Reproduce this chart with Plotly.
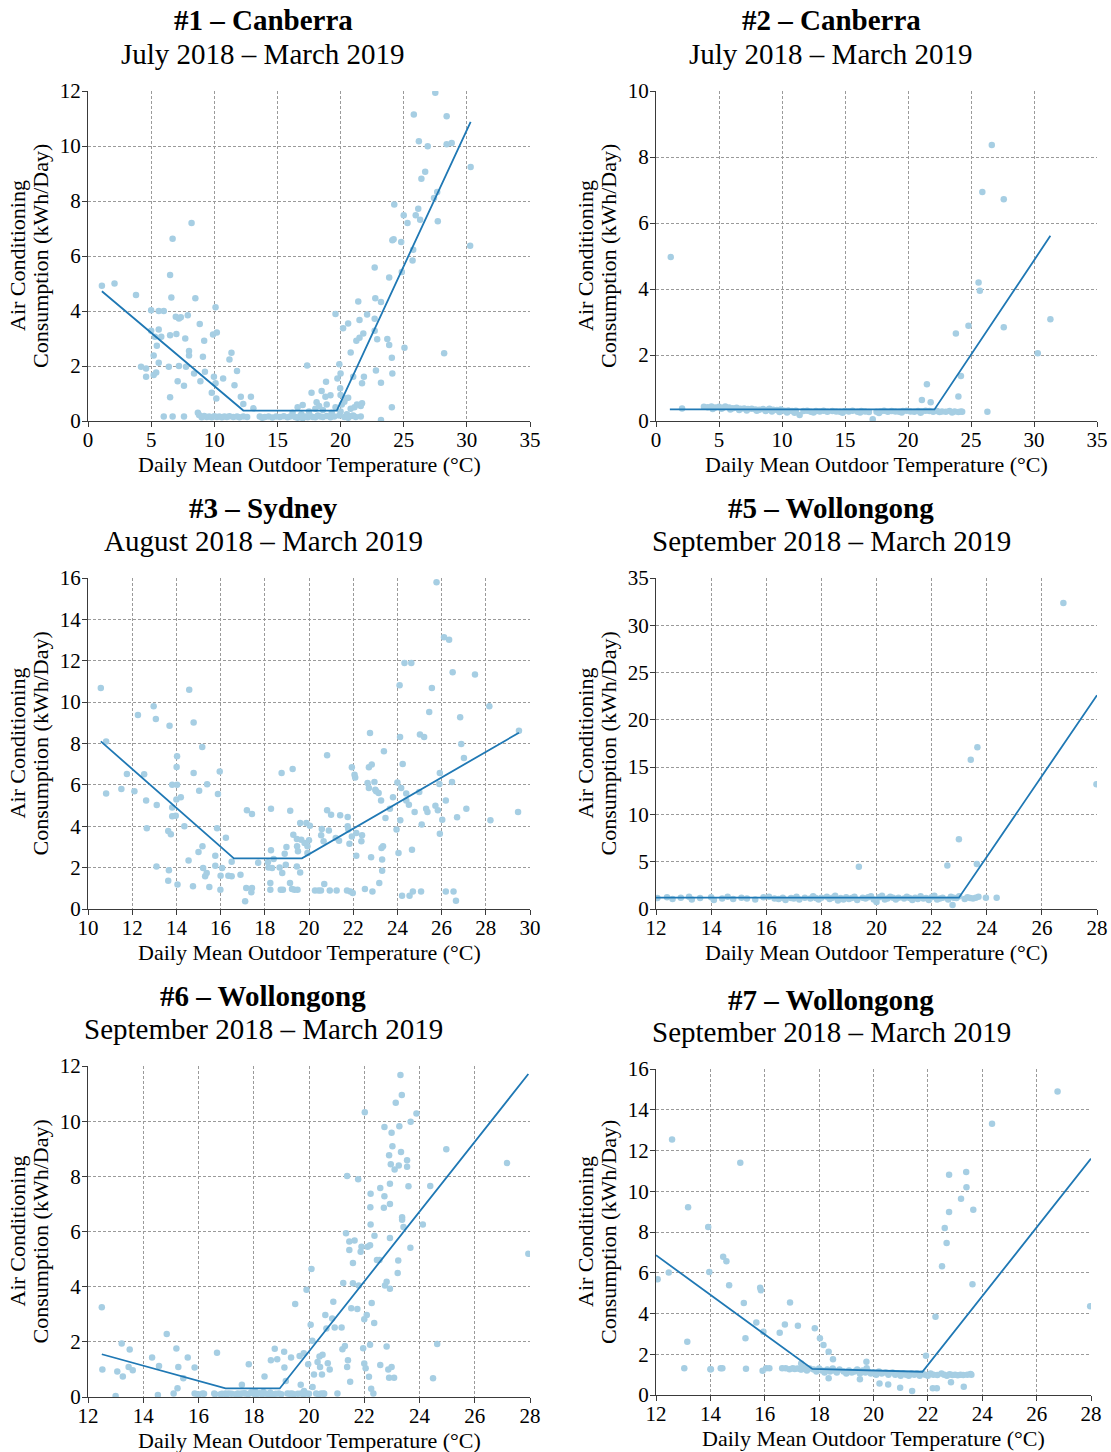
import plotly.graph_objects as go

# ---------------------------------------------------------------------------
# Daily air-conditioning consumption vs. daily mean outdoor temperature
# (temperature °C, consumption kWh/day) and the fitted piecewise-linear models
# ---------------------------------------------------------------------------

site1_points = [
    (1.1, 4.92), (2.1, 5.0), (3.8, 4.58), (4.2, 1.97), (4.6, 1.91), (4.6, 1.61), (5.0, 4.03), (5.0, 3.28),
    (5.3, 3.06), (5.2, 2.38), (5.2, 1.67), (5.4, 1.76), (5.45, 2.74), (5.6, 3.33), (5.6, 2.12), (5.6, 4.0),
    (6.0, 4.0), (5.8, 3.06), (6.4, 1.97), (6.5, 0.86), (6.5, 3.12), (6.5, 5.31), (6.6, 4.49), (6.7, 6.63),
    (6.95, 3.79), (7.0, 3.16), (7.1, 1.45), (7.2, 2.0), (7.2, 3.73), (7.35, 3.77), (7.6, 1.28), (7.7, 3.0),
    (7.76, 1.97), (7.9, 3.85), (8.0, 2.55), (8.0, 2.38), (8.2, 7.2), (8.4, 1.73), (8.5, 4.46), (8.7, 0.30),
    (8.85, 3.53), (8.9, 1.45), (9.2, 2.92), (9.1, 2.34), (9.26, 1.79), (9.8, 1.03), (9.9, 3.15), (9.97, 1.61),
    (10.1, 1.37), (10.1, 4.14), (10.2, 3.22), (10.16, 0.82), (10.7, 1.55), (11.2, 2.24), (11.36, 2.48),
    (11.6, 1.3), (11.8, 1.82), (12.1, 0.88), (12.3, 0.62), (12.9, 0.88), (13.1, 0.46), (17.35, 2.02),
    (17.0, 0.58), (16.6, 0.5), (17.7, 1.03), (18.1, 0.68), (18.5, 1.09), (18.8, 0.88), (18.85, 1.43),
    (19.2, 0.94), (19.6, 3.89), (19.9, 2.06), (20.0, 1.73), (19.75, 1.55), (19.97, 1.19), (20.2, 3.37),
    (20.6, 3.55), (20.4, 0.82), (20.8, 2.49), (21.0, 1.61), (21.25, 2.92), (21.4, 4.35), (21.5, 3.03),
    (21.5, 3.67), (21.7, 1.37), (21.8, 3.18), (21.85, 1.61), (22.1, 3.87), (22.7, 5.58), (22.75, 4.46),
    (22.7, 3.72), (22.7, 3.28), (22.9, 2.97), (22.8, 1.84), (23.2, 4.33), (23.2, 1.39), (23.2, 0.04),
    (23.7, 2.98), (23.85, 2.76), (23.85, 5.22), (24.06, 2.3), (24.1, 1.73), (24.06, 0.5), (24.1, 6.57),
    (24.2, 6.61), (24.25, 7.87), (24.8, 6.51), (24.85, 5.42), (25.06, 2.66), (25.0, 7.48), (25.3, 7.2),
    (25.7, 5.84), (25.75, 6.23), (25.8, 11.15), (25.95, 7.48), (26.15, 7.72), (26.2, 10.17), (26.3, 7.32),
    (26.4, 8.81), (26.7, 9.06), (26.9, 9.99), (27.4, 8.11), (27.5, 11.94), (27.65, 8.33), (27.7, 7.26),
    (28.2, 2.46), (28.4, 11.08), (28.4, 10.06), (28.8, 10.11), (30.26, 6.37), (30.3, 9.24),
    # near-zero days
    (6.0, 0.16), (6.7, 0.16), (7.6, 0.16), (8.8, 0.22), (9.0, 0.14), (9.2, 0.18), (9.4, 0.15), (9.6, 0.16),
    (9.8, 0.14), (10.0, 0.17), (10.2, 0.15), (10.4, 0.16), (10.6, 0.14), (10.8, 0.16), (11.0, 0.15),
    (11.2, 0.17), (11.5, 0.15), (11.8, 0.16), (12.0, 0.14), (12.3, 0.16), (12.6, 0.15), (13.6, 0.16),
    (13.8, 0.12), (14.0, 0.15), (14.3, 0.16), (14.6, 0.13), (14.9, 0.16), (15.2, 0.15), (15.5, 0.17),
    (15.8, 0.14), (16.0, 0.16), (16.2, 0.3), (16.4, 0.15), (16.6, 0.12), (16.8, 0.18), (16.9, 0.25),
    (17.0, 0.1), (17.2, 0.16), (17.4, 0.14), (17.5, 0.35), (17.6, 0.18), (17.8, 0.15), (18.0, 0.45),
    (18.0, 0.14), (18.2, 0.2), (18.3, 0.55), (18.4, 0.16), (18.6, 0.4), (18.6, 0.15), (18.9, 0.6),
    (18.9, 0.18), (19.2, 0.14), (19.3, 0.3), (19.5, 0.16), (19.6, 0.5), (19.9, 0.2), (20.0, 0.35),
    (20.0, 0.95), (20.1, 0.6), (20.3, 0.7), (20.3, 0.15), (20.5, 0.25), (20.6, 0.85), (20.6, 0.12),
    (20.8, 0.45), (20.9, 0.18), (21.0, 0.2), (21.1, 0.5), (21.2, 0.15), (21.3, 0.6), (21.6, 0.16),
    (21.6, 0.55), (21.7, 0.65),
]
site1_fit_t = [1.1, 12.3, 19.7, 30.3]
site1_fit_k = [4.72, 0.38, 0.38, 10.88]

site2_points = [
    (1.17, 4.97), (2.07, 0.38), (11.4, 0.18), (17.2, 0.05), (21.1, 0.64), (21.5, 1.11), (21.8, 0.57),
    (23.8, 2.65), (24.0, 0.74), (24.2, 1.36), (24.8, 2.89), (25.6, 4.2), (25.7, 3.95), (25.9, 6.94),
    (26.3, 0.28), (26.65, 8.36), (27.6, 6.72), (27.6, 2.84), (30.3, 2.05), (31.3, 3.08),
    # standby band
    (3.8, 0.43), (4.1, 0.42), (4.4, 0.44), (4.7, 0.41), (5.0, 0.43), (5.3, 0.40), (5.5, 0.44), (5.8, 0.41),
    (6.1, 0.39), (6.4, 0.40), (6.7, 0.37), (7.0, 0.38), (7.3, 0.36), (7.6, 0.37), (7.9, 0.35), (8.2, 0.34),
    (8.5, 0.36), (8.8, 0.33), (9.0, 0.37), (9.3, 0.34), (9.6, 0.33), (9.9, 0.35), (10.2, 0.31), (10.5, 0.32),
    (10.8, 0.30), (11.1, 0.31), (11.7, 0.30), (12.0, 0.31), (12.3, 0.28), (12.7, 0.30), (13.0, 0.29),
    (13.3, 0.31), (13.6, 0.28), (14.0, 0.30), (14.3, 0.29), (14.6, 0.28), (15.0, 0.30), (15.3, 0.29),
    (15.6, 0.31), (16.0, 0.28), (16.3, 0.30), (16.6, 0.29), (16.9, 0.27), (17.5, 0.28), (17.8, 0.29),
    (18.1, 0.31), (18.4, 0.28), (18.7, 0.30), (19.0, 0.29), (19.3, 0.28), (19.6, 0.30), (19.9, 0.31),
    (20.2, 0.29), (20.5, 0.28), (20.8, 0.30), (21.1, 0.29), (21.4, 0.31), (21.7, 0.30), (22.0, 0.28),
    (22.3, 0.30), (22.7, 0.29), (23.0, 0.28), (23.3, 0.30), (23.7, 0.29), (24.0, 0.27), (24.3, 0.28),
    (4.5, 0.36), (5.2, 0.37), (5.9, 0.35), (6.6, 0.33), (7.2, 0.32), (8.0, 0.31), (8.7, 0.30), (9.2, 0.29),
    (9.8, 0.27), (10.4, 0.26), (11.0, 0.25), (12.5, 0.26), (14.8, 0.25), (16.2, 0.26), (17.7, 0.24),
    (19.5, 0.26), (21.0, 0.25), (22.5, 0.27), (23.5, 0.26), (24.2, 0.29),
]
site2_fit_t = [1.1, 22.1, 31.3]
site2_fit_k = [0.35, 0.35, 5.61]

site3_points = [
    (10.58, 10.68), (10.82, 8.1), (10.82, 5.58), (11.51, 5.8), (11.76, 6.53), (12.1, 5.69), (12.26, 9.38),
    (12.54, 6.51), (12.63, 5.24), (12.66, 3.9), (12.97, 9.8), (13.07, 9.18), (13.11, 5.03), (13.1, 2.06),
    (13.63, 3.77), (13.66, 1.87), (13.63, 1.37), (13.69, 8.86), (13.75, 3.61), (13.81, 6.01), (13.81, 4.91),
    (13.81, 4.48), (13.97, 4.51), (14.01, 6.86), (14.03, 7.38), (14.03, 6.01), (14.0, 5.29), (14.05, 1.18),
    (14.2, 5.4), (14.36, 4.0), (14.55, 2.34), (14.58, 10.6), (14.75, 1.1), (14.78, 9.02), (14.78, 6.57),
    (15.03, 5.72), (15.0, 2.76), (15.17, 7.83), (15.18, 3.03), (15.21, 1.98), (15.3, 1.58), (15.37, 1.74),
    (15.39, 6.03), (15.49, 1.06), (15.76, 2.58), (15.76, 2.09), (15.84, 3.9), (15.88, 5.56), (15.96, 6.65),
    (15.99, 0.93), (16.0, 1.61), (16.07, 1.98), (16.24, 3.45), (16.35, 1.61), (16.5, 1.58), (16.5, 2.29),
    (16.9, 1.66), (17.11, 0.37), (17.16, 1.02), (17.19, 4.77), (17.39, 0.81), (17.42, 1.02), (17.42, 4.59),
    (17.7, 2.24), (18.14, 2.26), (18.17, 2.01), (18.25, 1.26), (18.25, 0.93), (18.28, 2.84), (18.28, 4.85),
    (18.33, 1.98), (18.4, 2.42), (18.67, 2.01), (18.72, 0.93), (18.76, 6.57), (18.79, 1.74), (18.82, 0.93),
    (18.9, 2.67), (18.95, 2.14), (18.98, 3.0), (19.14, 1.26), (19.15, 4.75), (19.23, 0.97), (19.26, 6.77),
    (19.29, 3.59), (19.34, 0.93), (19.45, 2.06), (19.48, 0.93), (19.45, 3.38), (19.46, 3.03), (19.5, 2.79),
    (19.6, 1.77), (19.6, 4.16), (19.65, 3.35), (19.8, 3.19), (19.88, 4.16), (19.93, 3.03), (20.0, 3.32),
    (20.04, 4.03), (19.93, 2.71), (20.27, 0.89), (20.43, 0.89), (20.54, 0.89), (20.55, 3.56), (20.58, 3.87),
    (20.66, 3.27), (20.69, 1.21), (20.82, 4.77), (20.82, 7.43), (20.9, 3.79), (20.94, 0.9), (21.0, 4.56),
    (21.21, 3.43), (21.25, 0.89), (21.36, 3.3), (21.41, 4.53), (21.72, 0.89), (21.75, 4.45), (21.75, 4.0),
    (21.78, 3.84), (21.83, 3.16), (21.87, 0.85), (21.94, 3.51), (21.98, 0.77), (21.94, 6.85), (22.06, 6.49),
    (22.09, 6.36), (22.14, 2.58), (22.14, 3.67), (22.37, 3.27), (22.4, 3.56), (22.53, 0.97), (22.65, 6.09),
    (22.71, 6.85), (22.71, 5.85), (22.76, 8.51), (22.81, 2.5), (22.84, 6.98), (22.87, 0.85), (22.96, 6.14),
    (23.0, 5.77), (23.04, 5.69), (23.15, 5.61), (23.18, 1.26), (23.26, 5.25), (23.28, 2.95), (23.31, 2.39),
    (23.31, 1.85), (23.35, 3.03), (23.39, 7.62), (23.46, 4.4), (23.66, 4.85), (23.8, 5.4), (23.96, 3.84),
    (24.0, 6.12), (24.05, 2.71), (24.1, 10.81), (24.12, 8.31), (24.13, 4.29), (24.17, 5.85), (24.21, 0.64),
    (24.24, 7.01), (24.32, 11.89), (24.4, 5.58), (24.4, 5.25), (24.52, 5.04), (24.55, 0.64), (24.63, 11.89),
    (24.66, 2.87), (24.7, 0.85), (24.78, 4.69), (24.99, 5.66), (25.02, 8.43), (25.1, 4.08), (25.07, 0.85),
    (25.21, 8.31), (25.3, 4.85), (25.36, 4.69), (25.44, 9.52), (25.56, 10.68), (25.72, 4.99), (25.77, 15.79),
    (25.83, 4.77), (25.92, 6.57), (25.9, 6.04), (25.92, 3.64), (26.03, 4.32), (26.11, 13.13), (26.19, 5.25),
    (26.19, 0.85), (26.34, 13.02), (26.47, 6.14), (26.5, 11.44), (26.54, 0.85), (26.65, 0.4), (26.7, 4.43),
    (26.84, 9.27), (26.89, 7.98), (27.01, 7.3), (27.12, 4.85), (27.51, 11.33), (28.16, 9.8), (28.21, 4.29),
    (29.46, 4.69), (29.5, 8.62),
]
site3_fit_t = [10.58, 16.6, 19.68, 29.5]
site3_fit_k = [8.1, 2.45, 2.45, 8.52]

site5_points = [
    (19.36, 4.48), (22.57, 4.59), (22.76, 0.42), (22.99, 7.37), (23.42, 15.77), (23.66, 17.11),
    (23.64, 4.76), (23.97, 1.2), (24.36, 1.2), (26.78, 32.36), (27.98, 13.2),
    # standby band
    (12.05, 1.15), (12.4, 1.25), (12.6, 1.05), (12.9, 1.2), (13.2, 1.3), (13.3, 1.0), (13.6, 1.15),
    (14.0, 1.25), (14.1, 0.95), (14.4, 1.1), (14.6, 1.3), (14.8, 1.05), (15.1, 1.2), (15.3, 1.1),
    (15.6, 1.0), (15.9, 1.25), (16.1, 1.3), (16.3, 1.1), (16.6, 1.2), (16.7, 0.95), (16.9, 1.15),
    (17.1, 1.3), (17.2, 1.0), (17.4, 1.2), (17.6, 1.1), (17.7, 1.35), (17.9, 1.0), (18.0, 1.2), (18.2, 1.3),
    (18.3, 1.05), (18.5, 1.4), (18.6, 0.9), (18.7, 1.15), (18.9, 1.25), (19.0, 1.05), (19.2, 1.3),
    (19.3, 0.95), (19.5, 1.2), (19.6, 1.1), (19.8, 1.35), (19.9, 1.0), (20.0, 0.75), (20.1, 1.25),
    (20.2, 1.4), (20.4, 1.1), (20.5, 1.3), (20.7, 1.0), (20.8, 1.2), (21.0, 1.1), (21.1, 1.3), (21.3, 0.95),
    (21.4, 1.2), (21.5, 1.05), (21.6, 1.35), (21.8, 1.15), (21.9, 0.95), (22.0, 1.25), (22.1, 1.4),
    (22.3, 1.1), (22.4, 1.2), (22.6, 1.0), (22.7, 1.3), (22.9, 1.15), (23.0, 1.35), (23.2, 1.05),
    (23.3, 1.25), (23.5, 1.1), (23.6, 1.2), (23.7, 1.3), (16.45, 1.05), (17.0, 1.1), (17.8, 1.15),
    (18.4, 1.2), (18.8, 1.0), (19.1, 1.15), (19.7, 1.25), (20.3, 1.0), (20.6, 1.2), (21.2, 1.15),
    (21.7, 1.1), (22.2, 1.0), (22.8, 1.2), (23.4, 1.15),
]
site5_fit_t = [12.0, 22.99, 28.0]
site5_fit_k = [1.2, 1.2, 22.6]

site6_points = [
    (12.5, 3.25), (12.52, 1.0), (13.0, 0.04), (13.06, 0.92), (13.22, 1.94), (13.26, 0.74), (13.47, 1.09),
    (13.51, 1.72), (13.62, 0.97), (14.32, 1.43), (14.53, 0.07), (14.57, 1.12), (14.85, 2.28), (15.1, 0.13),
    (15.2, 1.76), (15.24, 0.32), (15.27, 1.09), (15.45, 0.68), (15.61, 1.43), (15.86, 1.07), (15.86, 0.13),
    (15.98, 0.1), (16.15, 0.13), (16.57, 0.13), (16.67, 1.6), (16.8, 0.1), (16.98, 0.13), (17.1, 0.13),
    (17.42, 0.13), (17.57, 0.44), (17.55, 0.13), (17.7, 0.13), (17.82, 1.19), (18.39, 0.74), (18.62, 1.33),
    (18.76, 1.75), (18.85, 1.37), (18.91, 0.13), (19.1, 1.64), (19.11, 1.07), (19.16, 0.58), (19.22, 0.13),
    (19.35, 1.43), (19.38, 0.13), (19.5, 3.37), (19.66, 1.49), (19.7, 0.44), (19.72, 0.13), (19.81, 1.59),
    (19.82, 0.22), (19.91, 3.89), (19.91, 0.13), (19.97, 1.19), (20.06, 2.62), (20.09, 4.64), (20.12, 2.04),
    (20.13, 0.36), (20.18, 0.82), (20.26, 0.13), (20.31, 1.27), (20.38, 1.47), (20.4, 1.09), (20.44, 0.13),
    (20.47, 0.82), (20.49, 1.53), (20.53, 0.13), (20.59, 2.97), (20.63, 2.48), (20.68, 1.22), (20.75, 1.0),
    (20.84, 2.85), (20.88, 3.45), (20.93, 2.52), (21.03, 0.13), (21.18, 2.52), (21.21, 1.73), (21.3, 1.85),
    (21.24, 4.13), (21.34, 5.94), (21.38, 8.01), (21.38, 1.09), (21.41, 1.33), (21.46, 5.33), (21.46, 5.64),
    (21.49, 0.55), (21.53, 3.22), (21.59, 4.12), (21.59, 4.86), (21.65, 5.67), (21.75, 3.19), (21.78, 7.89),
    (21.8, 4.04), (21.87, 5.27), (21.9, 5.45), (21.96, 1.77), (22.0, 2.82), (22.0, 1.21), (22.02, 10.32),
    (22.05, 1.04), (22.09, 2.97), (22.12, 5.45), (22.17, 0.73), (22.21, 5.5), (22.21, 1.89), (22.22, 6.88),
    (22.23, 7.37), (22.23, 6.25), (22.25, 0.3), (22.27, 3.41), (22.33, 0.13), (22.36, 2.68), (22.37, 5.85),
    (22.46, 4.97), (22.55, 4.97), (22.58, 7.58), (22.58, 1.16), (22.71, 6.86), (22.73, 9.79), (22.73, 7.28),
    (22.75, 4.04), (22.81, 4.18), (22.81, 1.83), (22.87, 1.0), (22.9, 8.76), (22.9, 0.7), (22.93, 3.92),
    (22.93, 5.76), (22.93, 7.0), (22.93, 7.73), (22.96, 8.44), (22.99, 9.58), (22.99, 1.09), (23.02, 9.09),
    (23.08, 0.7), (23.1, 8.25), (23.14, 10.67), (23.21, 4.5), (23.23, 4.95), (23.25, 8.39), (23.27, 9.82),
    (23.31, 11.67), (23.33, 8.88), (23.36, 10.95), (23.37, 6.52), (23.37, 6.43), (23.42, 6.16), (23.55, 8.58),
    (23.55, 8.35), (23.6, 7.64), (23.67, 5.41), (23.68, 9.98), (23.89, 10.28), (24.12, 6.25), (24.39, 7.65),
    (24.49, 0.68), (24.64, 1.92), (24.97, 8.98), (27.17, 8.48), (27.94, 5.19),
    # near-zero days
    (16.0, 0.08), (16.2, 0.12), (16.6, 0.1), (16.85, 0.12), (17.0, 0.08), (17.2, 0.12), (17.35, 0.1),
    (17.5, 0.1), (17.65, 0.14), (17.8, 0.1), (17.9, 0.16), (18.0, 0.12), (18.05, 0.2), (18.1, 0.1),
    (18.2, 0.14), (18.3, 0.1), (18.35, 0.18), (18.45, 0.12), (18.55, 0.1), (18.6, 0.15), (18.7, 0.1),
    (18.8, 0.12), (19.0, 0.1), (19.3, 0.12), (19.45, 0.1), (19.6, 0.12), (19.8, 0.1), (20.0, 0.12),
    (20.35, 0.1), (20.55, 0.12),
]
site6_fit_t = [12.5, 16.98, 18.94, 27.94]
site6_fit_k = [1.55, 0.31, 0.31, 11.71]

site7_points = [
    (12.06, 5.68), (12.47, 6.01), (12.59, 12.54), (13.04, 1.31), (13.15, 2.61), (13.18, 9.22), (13.92, 8.24),
    (13.96, 6.04), (14.0, 1.26), (14.02, 1.26), (14.38, 1.31), (14.44, 1.31), (14.47, 6.78), (14.59, 6.56),
    (14.69, 5.39), (15.1, 11.4), (15.23, 4.52), (15.29, 2.78), (15.31, 1.29), (15.69, 3.56), (15.83, 5.26),
    (15.86, 5.14), (15.92, 1.19), (15.95, 3.1), (16.05, 1.31), (16.17, 1.31), (16.55, 3.05), (16.64, 1.31),
    (16.74, 3.46), (16.77, 1.31), (16.91, 1.26), (16.93, 4.54), (17.03, 1.31), (17.22, 3.4), (17.31, 1.26),
    (17.34, 1.55), (17.84, 3.27), (18.03, 2.78), (18.16, 2.45), (18.35, 2.12), (18.35, 0.82), (18.51, 1.75),
    (19.5, 0.77), (19.74, 1.63), (19.75, 1.31), (20.22, 0.57), (20.54, 0.52), (20.98, 0.36), (21.42, 0.2),
    (21.93, 1.93), (22.18, 0.33), (22.33, 0.33), (22.28, 3.84), (22.52, 6.32), (22.62, 8.2), (22.69, 7.46),
    (22.78, 10.81), (22.78, 8.98), (22.85, 0.62), (23.22, 9.63), (23.32, 0.41), (23.41, 10.94),
    (23.42, 10.2), (23.64, 5.44), (23.67, 9.09), (23.57, 1.03), (24.36, 13.31), (26.77, 14.89),
    (27.97, 4.36),
    # standby band
    (17.1, 1.28), (17.2, 1.3), (17.35, 1.25), (17.45, 1.35), (17.55, 1.2), (17.65, 1.3), (17.8, 1.25),
    (17.9, 1.15), (18.0, 1.3), (18.1, 1.2), (18.2, 1.1), (18.3, 1.25), (18.4, 1.15), (18.5, 1.3),
    (18.55, 1.2), (18.65, 1.1), (18.75, 1.25), (18.9, 1.15), (19.0, 1.05), (19.1, 1.2), (19.2, 1.1),
    (19.3, 1.15), (19.4, 1.25), (19.5, 1.05), (19.6, 1.2), (19.7, 1.1), (19.8, 1.15), (19.9, 1.05),
    (20.0, 1.1), (20.1, 1.0), (20.2, 1.15), (20.3, 1.05), (20.45, 1.1), (20.55, 1.0), (20.7, 1.1),
    (20.8, 1.0), (20.9, 1.05), (21.0, 0.95), (21.1, 1.05), (21.2, 1.0), (21.3, 0.95), (21.4, 1.05),
    (21.5, 1.0), (21.6, 1.05), (21.7, 0.95), (21.8, 1.05), (21.9, 1.0), (22.0, 0.95), (22.1, 1.05),
    (22.2, 1.0), (22.35, 0.98), (22.5, 1.05), (22.6, 1.0), (22.7, 0.95), (22.8, 1.02), (22.9, 0.98),
    (23.0, 1.0), (23.1, 0.97), (23.2, 1.0), (23.3, 0.98), (23.45, 1.0), (23.6, 1.0),
]
site7_fit_t = [12.0, 17.75, 21.8, 28.0]
site7_fit_k = [6.86, 1.28, 1.14, 11.6]

panel_titles = ["#1 – Canberra", "#2 – Canberra", "#3 – Sydney",
                "#5 – Wollongong", "#6 – Wollongong", "#7 – Wollongong"]
panel_periods = ["July 2018 – March 2019", "July 2018 – March 2019", "August 2018 – March 2019",
                 "September 2018 – March 2019", "September 2018 – March 2019", "September 2018 – March 2019"]
x_ranges = [(0, 35), (0, 35), (10, 30), (12, 28), (12, 28), (12, 28)]
x_steps = [5, 5, 2, 2, 2, 2]
y_ranges = [(0, 12), (0, 10), (0, 16), (0, 35), (0, 12), (0, 16)]
y_steps = [2, 2, 2, 5, 2, 2]

x_label = "Daily Mean Outdoor Temperature (°C)"
y_label_lines = ["Air Conditioning", "Consumption (kWh/Day)"]

scatter_sets = [site1_points, site2_points, site3_points, site5_points, site6_points, site7_points]
fit_sets = [(site1_fit_t, site1_fit_k), (site2_fit_t, site2_fit_k), (site3_fit_t, site3_fit_k),
            (site5_fit_t, site5_fit_k), (site6_fit_t, site6_fit_k), (site7_fit_t, site7_fit_k)]

# ---------------------------------------------------------------------------
# Layout (pixel geometry of each plotting area: left, right, top, bottom)
# ---------------------------------------------------------------------------
W, H = 1111, 1452
boxes = [
    (88, 530, 91, 421), (656, 1097, 91, 421),
    (88, 530, 578, 909), (656, 1097, 578, 909),
    (88, 530, 1066, 1397), (656, 1091, 1069, 1395),
]
title_y = [(20, 54), (20, 54), (508, 541), (508, 541), (996, 1029), (1000, 1032)]
title_cx = [263, 831, 263, 831, 263, 831]

FONT = "Liberation Serif, Times New Roman, serif"
POINT_COLOR = "#a6cee3"
LINE_COLOR = "#1f78b4"
AXIS_COLOR = "#3a3a3a"
GRID_COLOR = "#9a9a9a"


def px(x):
    return x / W


def py(y):
    return 1 - y / H


fig = go.Figure()
annotations = []

for i in range(6):
    n = "" if i == 0 else str(i + 1)
    xa, ya = "x" + n, "y" + n
    left, right, top, bottom = boxes[i]

    temps = [p[0] for p in scatter_sets[i]]
    kwh = [p[1] for p in scatter_sets[i]]
    fig.add_trace(go.Scatter(
        x=temps, y=kwh, mode="markers", xaxis=xa, yaxis=ya,
        marker=dict(color=POINT_COLOR, size=6.5, line=dict(width=0)),
        showlegend=False, hoverinfo="x+y",
    ))
    fit_t, fit_k = fit_sets[i]
    fig.add_trace(go.Scatter(
        x=fit_t, y=fit_k, mode="lines", xaxis=xa, yaxis=ya,
        line=dict(color=LINE_COLOR, width=1.8),
        showlegend=False, hoverinfo="skip",
    ))

    axis_common = dict(
        showline=True, linecolor=AXIS_COLOR, linewidth=1.3, mirror=False, automargin=False,
        ticks="outside", ticklen=5, tickwidth=1.3, tickcolor=AXIS_COLOR,
        showgrid=True, gridcolor=GRID_COLOR, gridwidth=0.8, griddash="3px,2px",
        zeroline=False, tickfont=dict(family=FONT, size=21, color="#000"),
    )
    fig.update_layout(**{
        ("xaxis" + n): dict(axis_common, domain=[px(left), px(right)], anchor=ya,
                            range=list(x_ranges[i]), dtick=x_steps[i], tick0=0,
                            ticklabelstandoff=-5),
        ("yaxis" + n): dict(axis_common, domain=[py(bottom), py(top)], anchor=xa,
                            range=list(y_ranges[i]), dtick=y_steps[i], tick0=0,
                            ticklabelstandoff=-3),
    })

    # panel heading: bold site name and the monitoring period
    annotations.append(dict(
        text="<b>" + panel_titles[i] + "</b>", x=px(title_cx[i]), y=py(title_y[i][0]),
        xref="paper", yref="paper", xanchor="center", yanchor="middle", showarrow=False,
        font=dict(family=FONT, size=29, color="#000"),
    ))
    annotations.append(dict(
        text=panel_periods[i], x=px(title_cx[i]), y=py(title_y[i][1]),
        xref="paper", yref="paper", xanchor="center", yanchor="middle", showarrow=False,
        font=dict(family=FONT, size=29, color="#000"),
    ))
    # x-axis title
    annotations.append(dict(
        text=x_label, x=px((left + right) / 2), y=py(bottom + 43),
        xref="paper", yref="paper", xanchor="center", yanchor="middle", showarrow=False,
        font=dict(family=FONT, size=22, color="#000"),
    ))
    # two-line y-axis title
    for j, line_text in enumerate(y_label_lines):
        annotations.append(dict(
            text=line_text, textangle=-90, x=px(left - 71 + 23 * j), y=py((top + bottom) / 2),
            xref="paper", yref="paper", xanchor="center", yanchor="middle", showarrow=False,
            font=dict(family=FONT, size=22, color="#000"),
        ))

fig.update_layout(
    width=W, height=H, margin=dict(l=0, r=0, t=0, b=0, autoexpand=False),
    paper_bgcolor="white", plot_bgcolor="white",
    font=dict(family=FONT, color="#000"),
    annotations=annotations,
)

fig.write_html("out.html")
